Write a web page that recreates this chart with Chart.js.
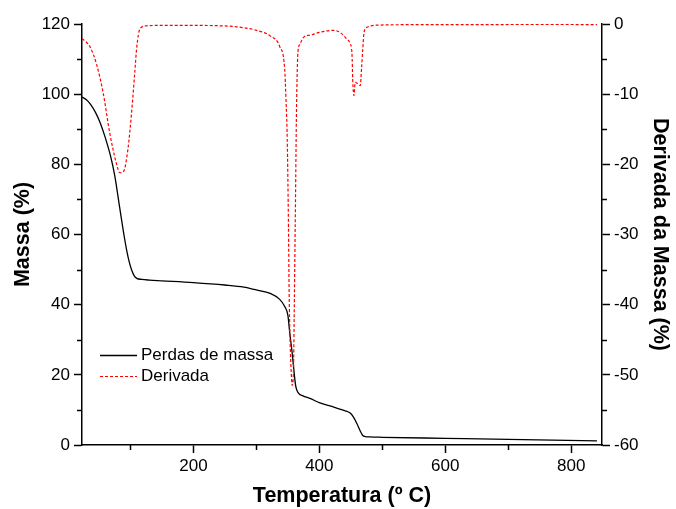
<!DOCTYPE html>
<html>
<head>
<meta charset="utf-8">
<script src="https://cdn.jsdelivr.net/npm/chart.js@4.4.1/dist/chart.umd.min.js"></script>
<style>
  html, body { margin: 0; padding: 0; background: #fff; }
  #wrap { width: 676px; height: 509px; }
</style>
</head>
<body>
<div id="wrap"><canvas id="chart" width="676" height="509"></canvas></div>
<script>
// mass loss curve (TG)
const massTemps = [23, 30, 36, 45, 52, 60, 68, 75, 83, 90, 94, 98, 102, 106, 110, 118, 130, 150, 200, 250,
  280, 300, 322, 337, 345, 350, 353, 357, 360, 362.5, 366, 374, 385, 401, 420, 440, 449, 454, 460, 465,
  469, 473, 480, 500, 600, 700, 841];
const massValues = [99.2, 98.4, 97.2, 94.6, 91.8, 87.6, 82.6, 76.8, 67.5, 59.5, 55.5, 52.2, 49.8, 48.2, 47.5, 47.2, 47.0, 46.8, 46.3, 45.6,
  45.0, 44.2, 43.2, 41.5, 39.5, 37, 32, 26, 20.5, 16.8, 15, 14, 13.3, 12.0, 11.0, 9.8, 9.1, 8.0, 6.0, 4.0,
  2.7, 2.4, 2.3, 2.2, 1.9, 1.6, 1.2];

// derivative curve (DTG)
const derivTemps = [23, 30, 36, 46, 57, 67, 78, 83, 89, 96, 102, 107, 110, 115, 126, 150, 200, 240, 269, 300,
  322, 337, 345, 347, 349, 351, 352, 353.5, 355, 357, 359, 360, 361.5, 362.5, 363.5, 364.5, 366, 369, 376, 385,
  400, 422, 433, 443, 449, 452, 453, 455, 457, 462, 465, 467, 469, 471, 475, 496, 550, 650, 750, 841];
const derivValues = [-2.1, -2.6, -3.3, -5.7, -10, -15.5, -20, -21.2, -21, -17.8, -12.4, -6.7, -3.3, -0.7, -0.25, -0.2, -0.2, -0.25, -0.4, -0.9,
  -1.7, -3.2, -6.5, -10.7, -16.4, -29, -38, -45, -49, -51.5, -49, -42, -30, -22, -13.6, -8.3, -4, -2.9, -1.8, -1.6,
  -1.2, -0.9, -1.2, -2.1, -2.8, -4.5, -7.9, -10.2, -8.3, -8.6, -8.8, -6.4, -3.6, -1.2, -0.5, -0.15, -0.1, -0.1, -0.05, -0.1];

const xTicks = [200, 400, 600, 800];
const xMinor = [100, 300, 500, 700];
const yMinor = [10, 30, 50, 70, 90, 110];
const y1Minor = [-5, -15, -25, -35, -45, -55];

const seriesNames = ["Perdas de massa", "Derivada"];

const FONT = "'Liberation Sans', Arial, sans-serif";

const pts = (xs, ys) => xs.map((x, i) => ({ x: x, y: ys[i] }));

// small outward ticks between the labelled ones
const minorTicks = {
  id: "minorTicks",
  afterDraw(chart) {
    const ctx = chart.ctx;
    const { x, y, y1 } = chart.scales;
    ctx.save();
    ctx.strokeStyle = "#000";
    ctx.lineWidth = 1.5;
    ctx.beginPath();
    xMinor.forEach(v => {
      const px = Math.round(x.getPixelForValue(v)) + 0.5;
      ctx.moveTo(px, x.top); ctx.lineTo(px, x.top + 5);
    });
    yMinor.forEach(v => {
      const py = Math.round(y.getPixelForValue(v)) + 0.5;
      ctx.moveTo(y.right, py); ctx.lineTo(y.right - 5, py);
    });
    y1Minor.forEach(v => {
      const py = Math.round(y1.getPixelForValue(v)) + 0.5;
      ctx.moveTo(y1.left, py); ctx.lineTo(y1.left + 5, py);
    });
    ctx.stroke();
    ctx.restore();
  }
};

// legend drawn inside the plot, lower left
const innerLegend = {
  id: "innerLegend",
  afterDraw(chart) {
    const ctx = chart.ctx;
    const left = chart.chartArea.left + 18;
    const top = 355;
    ctx.save();
    ctx.font = "17px " + FONT;
    ctx.textBaseline = "middle";
    ctx.fillStyle = "#000";
    chart.data.datasets.slice().sort((a, b) => a.legendIndex - b.legendIndex).forEach((ds, i) => {
      const yy = top + i * 21 + 0.5;
      ctx.strokeStyle = ds.borderColor;
      ctx.lineWidth = ds.borderWidth;
      ctx.setLineDash(ds.borderDash || []);
      ctx.beginPath();
      ctx.moveTo(left, yy);
      ctx.lineTo(left + 37, yy);
      ctx.stroke();
      ctx.setLineDash([]);
      ctx.fillText(ds.label, left + 41, yy);
    });
    ctx.restore();
  }
};

const axisTitle = (text, pad) => ({
  display: true,
  text: text,
  color: "#000",
  font: { family: FONT, size: 21.5, weight: "bold" },
  padding: pad
});

const tickFont = { family: FONT, size: 17 };

new Chart(document.getElementById("chart"), {
  type: "line",
  data: {
    datasets: [
      {
        label: seriesNames[1],
        legendIndex: 1,
        data: pts(derivTemps, derivValues),
        yAxisID: "y1",
        borderColor: "#ff0000",
        borderWidth: 1.2,
        borderDash: [3, 2],
        pointRadius: 0,
        cubicInterpolationMode: "monotone",
        order: 0
      },
      {
        label: seriesNames[0],
        legendIndex: 0,
        data: pts(massTemps, massValues),
        yAxisID: "y",
        borderColor: "#000000",
        borderWidth: 1.3,
        pointRadius: 0,
        cubicInterpolationMode: "monotone",
        order: 1
      }
    ]
  },
  options: {
    responsive: false,
    animation: false,
    devicePixelRatio: 1,
    layout: { padding: { top: 24, left: 0, right: 0, bottom: 0 } },
    plugins: { legend: { display: false }, tooltip: { enabled: false } },
    scales: {
      x: {
        type: "linear",
        min: 23,
        max: 849,
        afterBuildTicks: s => { s.ticks = xTicks.map(v => ({ value: v })); },
        afterFit: s => { s.height = 64; },
        grid: { drawOnChartArea: false, tickLength: 8, tickColor: "#000", tickWidth: 1.5 },
        border: { display: true, color: "#000", width: 1.5 },
        ticks: { color: "#000", font: tickFont, padding: 3, maxRotation: 0 },
        title: axisTitle("Temperatura (º C)", { top: 0, bottom: 0 })
      },
      y: {
        position: "left",
        min: 0,
        max: 120,
        afterFit: s => { s.width = 82; },
        grid: { drawOnChartArea: false, tickLength: 8, tickColor: "#000", tickWidth: 1.5 },
        border: { display: true, color: "#000", width: 1.5 },
        ticks: { color: "#000", font: tickFont, stepSize: 20, padding: 4 },
        title: axisTitle("Massa (%)", { top: 10, bottom: 0 })
      },
      y1: {
        position: "right",
        min: -60,
        max: 0,
        afterFit: s => { s.width = 74; },
        grid: { drawOnChartArea: false, tickLength: 8, tickColor: "#000", tickWidth: 1.5 },
        border: { display: true, color: "#000", width: 1.5 },
        ticks: { color: "#000", font: tickFont, stepSize: 10, padding: 4 },
        title: axisTitle("Derivada da Massa (%)", { top: 3, bottom: 0 })
      }
    }
  },
  plugins: [minorTicks, innerLegend]
});
</script>
</body>
</html>
